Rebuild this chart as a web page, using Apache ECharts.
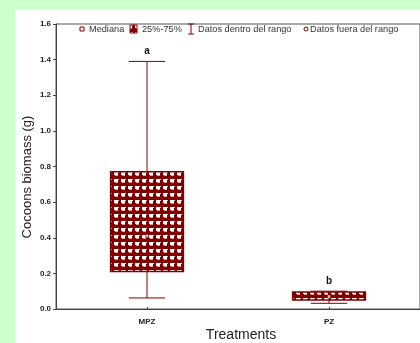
<!DOCTYPE html>
<html>
<head>
<meta charset="utf-8">
<script src="https://cdn.jsdelivr.net/npm/echarts@6/dist/echarts.min.js"></script>
<style>
	html, body { margin: 0; padding: 0; background: #ccffcc; }
	#chart { position: absolute; left: 15px; top: 10px; width: 405px; height: 333px; background: #fff; }
</style>
</head>
<body>
<div id="chart"></div>
<script>
// box plot values
const categories = ['MPZ', 'PZ'];
const whiskerLow = [0.062, 0.032];
const q1 = [0.21, 0.05];
const median = [0.41, 0.07];
const q3 = [0.77, 0.095];
const whiskerHigh = [1.39, 0.10];
const groupLetters = ['a', 'b'];

const RED = '#800000';
const FONT = 'Liberation Sans, Arial, sans-serif';

// checkered fill like the original
function makePattern() {
	const c = document.createElement('canvas');
	c.width = 7; c.height = 7;
	const g = c.getContext('2d');
	g.fillStyle = RED; g.fillRect(0, 0, 7, 7);
	g.fillStyle = '#ffffff'; g.fillRect(1, 1, 4, 3);
	g.fillStyle = '#d8a8a8'; g.fillRect(2, 4, 3, 1);
	g.fillStyle = '#f0d8d8'; g.fillRect(5, 1, 1, 1);
	return c;
}
const pattern = { image: makePattern(), repeat: 'repeat' };

const boxData = categories.map((c, i) => [i, whiskerLow[i], q1[i], median[i], q3[i], whiskerHigh[i]]);

const myChart = echarts.init(document.getElementById('chart'));
myChart.setOption({
	animation: false,
	grid: { left: 41, top: 14, right: -12, bottom: 34, show: true, borderColor: '#555', borderWidth: 1 },
	xAxis: {
		type: 'category',
		data: categories,
		boundaryGap: true,
		axisLine: { lineStyle: { color: '#444', width: 1 } },
		axisTick: { show: true, alignWithLabel: true, inside: true, length: 2, lineStyle: { color: '#444' } },
		axisLabel: { fontFamily: FONT, fontSize: 8, fontWeight: 'bold', color: '#222', margin: 9 }
	},
	yAxis: {
		type: 'value',
		min: 0, max: 1.6, interval: 0.2,
		splitLine: { show: false },
		axisLine: { show: true, lineStyle: { color: '#444', width: 1 } },
		axisTick: { show: true, length: 3, lineStyle: { color: '#444' } },
		axisLabel: {
			fontFamily: FONT, fontSize: 8, fontWeight: 'bold', color: '#222', margin: 5,
			formatter: v => v.toFixed(1)
		}
	},
	series: [{
		type: 'custom',
		data: boxData,
		encode: { x: 0, y: [1, 2, 3, 4, 5] },
		renderItem: function (params, api) {
			const i = api.value(0);
			const band = api.size([1, 0])[0];
			const bw = band * 0.4, cw = band * 0.2;
			const pLow = api.coord([i, api.value(1)]);
			const pQ1 = api.coord([i, api.value(2)]);
			const pMed = api.coord([i, api.value(3)]);
			const pQ3 = api.coord([i, api.value(4)]);
			const pHigh = api.coord([i, api.value(5)]);
			const x = pQ1[0];
			const line = { stroke: RED, lineWidth: 1 };
			const top = Math.min(pHigh[1], pQ3[1]);
			return {
				type: 'group',
				children: [
					{ type: 'line', shape: { x1: x, y1: pHigh[1], x2: x, y2: pQ3[1] }, style: line },
					{ type: 'line', shape: { x1: x, y1: pQ1[1], x2: x, y2: pLow[1] }, style: line },
					{ type: 'line', shape: { x1: x - cw / 2, y1: pHigh[1], x2: x + cw / 2, y2: pHigh[1] }, style: line },
					{ type: 'line', shape: { x1: x - cw / 2, y1: pLow[1], x2: x + cw / 2, y2: pLow[1] }, style: line },
					{
						type: 'rect',
						shape: { x: x - bw / 2, y: pQ3[1], width: bw, height: pQ1[1] - pQ3[1] },
						style: { fill: pattern, stroke: RED, lineWidth: 1.5 }
					},
					{ type: 'rect', shape: { x: x - 1.5, y: pMed[1] - 1.5, width: 3, height: 3 }, style: { fill: '#e8c8c8', stroke: RED, lineWidth: 0.5 } },
					{
						type: 'text',
						style: {
							text: groupLetters[i], x: x, y: top - 5,
							align: 'center', verticalAlign: 'bottom',
							font: 'bold 10px ' + FONT, fill: '#111'
						}
					}
				]
			};
		}
	}],
	graphic: [
		// axis titles
		{
			type: 'text', x: 12, y: 167, rotation: Math.PI / 2,
			style: { text: 'Cocoons biomass (g)', font: '13px ' + FONT, fill: '#222', align: 'center', verticalAlign: 'middle' }
		},
		{
			type: 'text', x: 226, y: 325,
			style: { text: 'Treatments', font: '14px ' + FONT, fill: '#222', align: 'center', verticalAlign: 'middle' }
		},
		// legend
		{ type: 'rect', shape: { x: 65, y: 17, width: 4, height: 4 }, style: { fill: '#fff', stroke: RED, lineWidth: 1 } },
		{ type: 'text', x: 74, y: 19, style: { text: 'Mediana', font: '9.2px ' + FONT, fill: '#333', verticalAlign: 'middle' } },
		{ type: 'rect', shape: { x: 115, y: 15, width: 7, height: 8 }, style: { fill: pattern, stroke: RED, lineWidth: 1 } },
		{ type: 'text', x: 127, y: 19, style: { text: '25%-75%', font: '9.2px ' + FONT, fill: '#333', verticalAlign: 'middle' } },
		{ type: 'line', shape: { x1: 176, y1: 14, x2: 176, y2: 24 }, style: { stroke: RED, lineWidth: 1 } },
		{ type: 'line', shape: { x1: 173, y1: 14, x2: 179, y2: 14 }, style: { stroke: RED, lineWidth: 1 } },
		{ type: 'line', shape: { x1: 173, y1: 24, x2: 179, y2: 24 }, style: { stroke: RED, lineWidth: 1 } },
		{ type: 'text', x: 183, y: 19, style: { text: 'Datos dentro del rango', font: '9.2px ' + FONT, fill: '#333', verticalAlign: 'middle' } },
		{ type: 'circle', shape: { cx: 291, cy: 19, r: 2 }, style: { fill: '#fff', stroke: RED, lineWidth: 1 } },
		{ type: 'text', x: 295, y: 19, style: { text: 'Datos fuera del rango', font: '9.2px ' + FONT, fill: '#333', verticalAlign: 'middle' } }
	]
});
</script>
</body>
</html>
